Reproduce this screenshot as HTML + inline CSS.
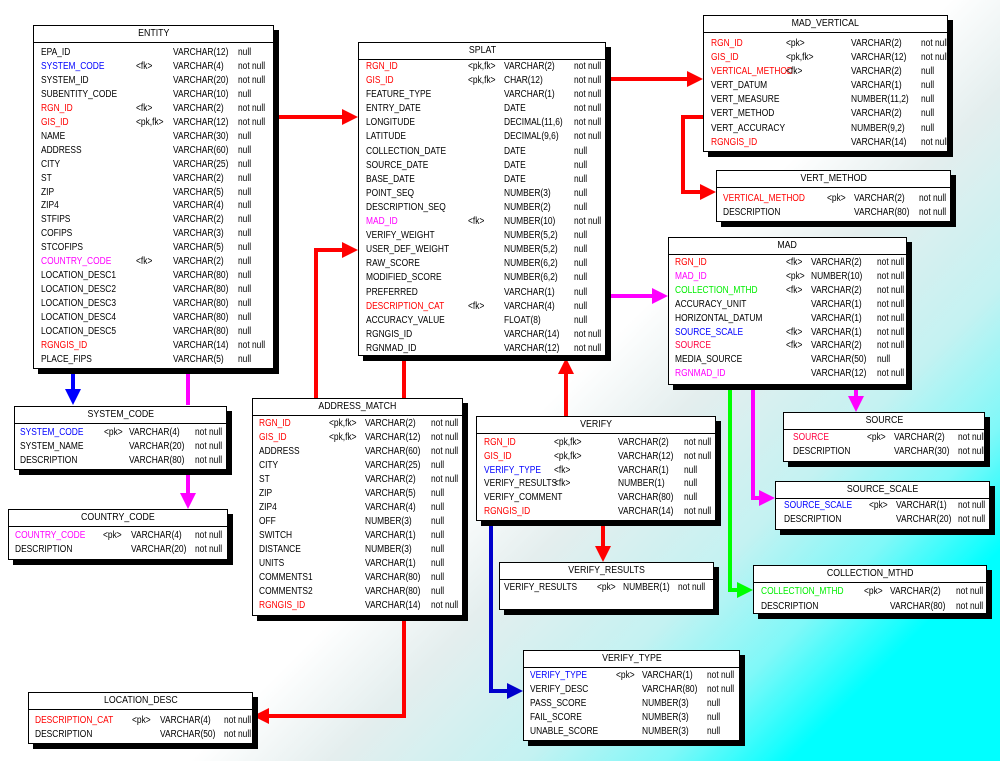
<!DOCTYPE html>
<html><head><meta charset="utf-8"><style>
*{margin:0;padding:0;box-sizing:border-box}
body{width:1000px;height:761px;position:relative;overflow:hidden;font-family:"Liberation Sans",sans-serif;font-size:10px;color:#000;
background:linear-gradient(135deg,#fff 0%,#fff 54%,#e4eeee 62%,#c4f2f2 73%,#7ff8f8 81%,#00ffff 88%,#00ffff 100%)}
svg{position:absolute;left:0;top:0}
.e{position:absolute;background:#fff;border:1px solid #000;box-shadow:5px 5px 0 #000}
.h{position:absolute;left:0;right:0;top:0;height:17px;border-bottom:1px solid #000;text-align:center;line-height:16px}
.h span{display:inline-block;transform:scaleX(.88)}
.b{position:absolute;left:0;right:0}
.b div{position:relative;white-space:nowrap}
.b span{position:absolute;top:0;transform:scaleX(.84);transform-origin:0 50%}
.n{left:var(--n)}.k{left:var(--k)}.t{left:var(--t)}.z{left:var(--z)}
.r{color:#f00}.bl{color:#00f}.m{color:#f0f}.g{color:#0e0}.rp{color:#ff0040}
</style></head><body>
<svg width="1000" height="761">
<g fill="none" stroke-width="4">
<path d="M275 117H345" stroke="#f00"/>
<path d="M607 79H690" stroke="#f00"/>
<path d="M703 117H683V192H703" stroke="#f00"/>
<path d="M607 296H655" stroke="#f0f"/>
<path d="M316 398V250H345" stroke="#f00"/>
<path d="M404 356V398" stroke="#f00"/>
<path d="M566 416V374" stroke="#f00"/>
<path d="M603 521V549" stroke="#f00"/>
<path d="M491 521V691H510" stroke="#00c"/>
<path d="M404 616V716H266" stroke="#f00"/>
<path d="M73 369V392" stroke="#00f"/>
<path d="M188 369V405M188 469V496" stroke="#f0f"/>
<path d="M856 385V398" stroke="#f0f"/>
<path d="M753 385V498H762" stroke="#f0f"/>
<path d="M730 385V590H740" stroke="#0f0"/>
</g>
<polygon points="358,117 342,109 342,125" fill="#f00"/>
<polygon points="703,79 687,71 687,87" fill="#f00"/>
<polygon points="716,192 700,184 700,200" fill="#f00"/>
<polygon points="668,296 652,288 652,304" fill="#f0f"/>
<polygon points="358,250 342,242 342,258" fill="#f00"/>
<polygon points="566,358 558,374 574,374" fill="#f00"/>
<polygon points="603,562 595,546 611,546" fill="#f00"/>
<polygon points="523,691 507,683 507,699" fill="#00c"/>
<polygon points="253,716 269,708 269,724" fill="#f00"/>
<polygon points="73,405 65,389 81,389" fill="#00f"/>
<polygon points="188,509 180,493 196,493" fill="#f0f"/>
<polygon points="856,412 848,396 864,396" fill="#f0f"/>
<polygon points="775,498 759,490 759,506" fill="#f0f"/>
<polygon points="753,590 737,582 737,598" fill="#0f0"/>
</svg>

<div class="e" style="left:33px;top:25px;width:241px;height:344px;--n:7px;--k:102px;--t:139px;--z:204px">
<div class="h"><span>ENTITY</span></div>
<div class="b" style="top:20px;line-height:13.95px">
<div><span class="n">EPA_ID</span><span class="t">VARCHAR(12)</span><span class="z">null</span>&nbsp;</div>
<div><span class="n bl">SYSTEM_CODE</span><span class="k">&lt;fk&gt;</span><span class="t">VARCHAR(4)</span><span class="z">not null</span>&nbsp;</div>
<div><span class="n">SYSTEM_ID</span><span class="t">VARCHAR(20)</span><span class="z">not null</span>&nbsp;</div>
<div><span class="n">SUBENTITY_CODE</span><span class="t">VARCHAR(10)</span><span class="z">null</span>&nbsp;</div>
<div><span class="n r">RGN_ID</span><span class="k">&lt;fk&gt;</span><span class="t">VARCHAR(2)</span><span class="z">not null</span>&nbsp;</div>
<div><span class="n r">GIS_ID</span><span class="k">&lt;pk,fk&gt;</span><span class="t">VARCHAR(12)</span><span class="z">not null</span>&nbsp;</div>
<div><span class="n">NAME</span><span class="t">VARCHAR(30)</span><span class="z">null</span>&nbsp;</div>
<div><span class="n">ADDRESS</span><span class="t">VARCHAR(60)</span><span class="z">null</span>&nbsp;</div>
<div><span class="n">CITY</span><span class="t">VARCHAR(25)</span><span class="z">null</span>&nbsp;</div>
<div><span class="n">ST</span><span class="t">VARCHAR(2)</span><span class="z">null</span>&nbsp;</div>
<div><span class="n">ZIP</span><span class="t">VARCHAR(5)</span><span class="z">null</span>&nbsp;</div>
<div><span class="n">ZIP4</span><span class="t">VARCHAR(4)</span><span class="z">null</span>&nbsp;</div>
<div><span class="n">STFIPS</span><span class="t">VARCHAR(2)</span><span class="z">null</span>&nbsp;</div>
<div><span class="n">COFIPS</span><span class="t">VARCHAR(3)</span><span class="z">null</span>&nbsp;</div>
<div><span class="n">STCOFIPS</span><span class="t">VARCHAR(5)</span><span class="z">null</span>&nbsp;</div>
<div><span class="n m">COUNTRY_CODE</span><span class="k">&lt;fk&gt;</span><span class="t">VARCHAR(2)</span><span class="z">null</span>&nbsp;</div>
<div><span class="n">LOCATION_DESC1</span><span class="t">VARCHAR(80)</span><span class="z">null</span>&nbsp;</div>
<div><span class="n">LOCATION_DESC2</span><span class="t">VARCHAR(80)</span><span class="z">null</span>&nbsp;</div>
<div><span class="n">LOCATION_DESC3</span><span class="t">VARCHAR(80)</span><span class="z">null</span>&nbsp;</div>
<div><span class="n">LOCATION_DESC4</span><span class="t">VARCHAR(80)</span><span class="z">null</span>&nbsp;</div>
<div><span class="n">LOCATION_DESC5</span><span class="t">VARCHAR(80)</span><span class="z">null</span>&nbsp;</div>
<div><span class="n r">RGNGIS_ID</span><span class="t">VARCHAR(14)</span><span class="z">not null</span>&nbsp;</div>
<div><span class="n">PLACE_FIPS</span><span class="t">VARCHAR(5)</span><span class="z">null</span>&nbsp;</div>
</div></div>

<div class="e" style="left:358px;top:42px;width:248px;height:314px;--n:7px;--k:109px;--t:145px;--z:215px">
<div class="h"><span>SPLAT</span></div>
<div class="b" style="top:17px;line-height:14.1px">
<div><span class="n r">RGN_ID</span><span class="k">&lt;pk,fk&gt;</span><span class="t">VARCHAR(2)</span><span class="z">not null</span>&nbsp;</div>
<div><span class="n r">GIS_ID</span><span class="k">&lt;pk,fk&gt;</span><span class="t">CHAR(12)</span><span class="z">not null</span>&nbsp;</div>
<div><span class="n">FEATURE_TYPE</span><span class="t">VARCHAR(1)</span><span class="z">not null</span>&nbsp;</div>
<div><span class="n">ENTRY_DATE</span><span class="t">DATE</span><span class="z">not null</span>&nbsp;</div>
<div><span class="n">LONGITUDE</span><span class="t">DECIMAL(11,6)</span><span class="z">not null</span>&nbsp;</div>
<div><span class="n">LATITUDE</span><span class="t">DECIMAL(9,6)</span><span class="z">not null</span>&nbsp;</div>
<div><span class="n">COLLECTION_DATE</span><span class="t">DATE</span><span class="z">null</span>&nbsp;</div>
<div><span class="n">SOURCE_DATE</span><span class="t">DATE</span><span class="z">null</span>&nbsp;</div>
<div><span class="n">BASE_DATE</span><span class="t">DATE</span><span class="z">null</span>&nbsp;</div>
<div><span class="n">POINT_SEQ</span><span class="t">NUMBER(3)</span><span class="z">null</span>&nbsp;</div>
<div><span class="n">DESCRIPTION_SEQ</span><span class="t">NUMBER(2)</span><span class="z">null</span>&nbsp;</div>
<div><span class="n m">MAD_ID</span><span class="k">&lt;fk&gt;</span><span class="t">NUMBER(10)</span><span class="z">not null</span>&nbsp;</div>
<div><span class="n">VERIFY_WEIGHT</span><span class="t">NUMBER(5,2)</span><span class="z">null</span>&nbsp;</div>
<div><span class="n">USER_DEF_WEIGHT</span><span class="t">NUMBER(5,2)</span><span class="z">null</span>&nbsp;</div>
<div><span class="n">RAW_SCORE</span><span class="t">NUMBER(6,2)</span><span class="z">null</span>&nbsp;</div>
<div><span class="n">MODIFIED_SCORE</span><span class="t">NUMBER(6,2)</span><span class="z">null</span>&nbsp;</div>
<div><span class="n">PREFERRED</span><span class="t">VARCHAR(1)</span><span class="z">null</span>&nbsp;</div>
<div><span class="n r">DESCRIPTION_CAT</span><span class="k">&lt;fk&gt;</span><span class="t">VARCHAR(4)</span><span class="z">null</span>&nbsp;</div>
<div><span class="n">ACCURACY_VALUE</span><span class="t">FLOAT(8)</span><span class="z">null</span>&nbsp;</div>
<div><span class="n">RGNGIS_ID</span><span class="t">VARCHAR(14)</span><span class="z">not null</span>&nbsp;</div>
<div><span class="n">RGNMAD_ID</span><span class="t">VARCHAR(12)</span><span class="z">not null</span>&nbsp;</div>
</div></div>

<div class="e" style="left:703px;top:15px;width:245px;height:137px;--n:7px;--k:82px;--t:147px;--z:217px">
<div class="h"><span>MAD_VERTICAL</span></div>
<div class="b" style="top:21px;line-height:14.1px">
<div><span class="n r">RGN_ID</span><span class="k">&lt;pk&gt;</span><span class="t">VARCHAR(2)</span><span class="z">not null</span>&nbsp;</div>
<div><span class="n r">GIS_ID</span><span class="k">&lt;pk,fk&gt;</span><span class="t">VARCHAR(12)</span><span class="z">not null</span>&nbsp;</div>
<div><span class="n r">VERTICAL_METHOD</span><span class="k">&lt;fk&gt;</span><span class="t">VARCHAR(2)</span><span class="z">null</span>&nbsp;</div>
<div><span class="n">VERT_DATUM</span><span class="t">VARCHAR(1)</span><span class="z">null</span>&nbsp;</div>
<div><span class="n">VERT_MEASURE</span><span class="t">NUMBER(11,2)</span><span class="z">null</span>&nbsp;</div>
<div><span class="n">VERT_METHOD</span><span class="t">VARCHAR(2)</span><span class="z">null</span>&nbsp;</div>
<div><span class="n">VERT_ACCURACY</span><span class="t">NUMBER(9,2)</span><span class="z">null</span>&nbsp;</div>
<div><span class="n r">RGNGIS_ID</span><span class="t">VARCHAR(14)</span><span class="z">not null</span>&nbsp;</div>
</div></div>

<div class="e" style="left:716px;top:170px;width:235px;height:52px;--n:6px;--k:110px;--t:137px;--z:202px">
<div class="h"><span>VERT_METHOD</span></div>
<div class="b" style="top:21px;line-height:14px">
<div><span class="n r">VERTICAL_METHOD</span><span class="k">&lt;pk&gt;</span><span class="t">VARCHAR(2)</span><span class="z">not null</span>&nbsp;</div>
<div><span class="n">DESCRIPTION</span><span class="t">VARCHAR(80)</span><span class="z">not null</span>&nbsp;</div>
</div></div>

<div class="e" style="left:668px;top:237px;width:239px;height:148px;--n:6px;--k:117px;--t:142px;--z:208px">
<div class="h"><span>MAD</span></div>
<div class="b" style="top:18px;line-height:13.9px">
<div><span class="n r">RGN_ID</span><span class="k">&lt;fk&gt;</span><span class="t">VARCHAR(2)</span><span class="z">not null</span>&nbsp;</div>
<div><span class="n m">MAD_ID</span><span class="k">&lt;pk&gt;</span><span class="t">NUMBER(10)</span><span class="z">not null</span>&nbsp;</div>
<div><span class="n g">COLLECTION_MTHD</span><span class="k">&lt;fk&gt;</span><span class="t">VARCHAR(2)</span><span class="z">not null</span>&nbsp;</div>
<div><span class="n">ACCURACY_UNIT</span><span class="t">VARCHAR(1)</span><span class="z">not null</span>&nbsp;</div>
<div><span class="n">HORIZONTAL_DATUM</span><span class="t">VARCHAR(1)</span><span class="z">not null</span>&nbsp;</div>
<div><span class="n bl">SOURCE_SCALE</span><span class="k">&lt;fk&gt;</span><span class="t">VARCHAR(1)</span><span class="z">not null</span>&nbsp;</div>
<div><span class="n rp">SOURCE</span><span class="k">&lt;fk&gt;</span><span class="t">VARCHAR(2)</span><span class="z">not null</span>&nbsp;</div>
<div><span class="n">MEDIA_SOURCE</span><span class="t">VARCHAR(50)</span><span class="z">null</span>&nbsp;</div>
<div><span class="n m">RGNMAD_ID</span><span class="t">VARCHAR(12)</span><span class="z">not null</span>&nbsp;</div>
</div></div>

<div class="e" style="left:783px;top:412px;width:202px;height:50px;--n:9px;--k:83px;--t:110px;--z:174px">
<div class="h"><span>SOURCE</span></div>
<div class="b" style="top:18px;line-height:14px">
<div><span class="n rp">SOURCE</span><span class="k">&lt;pk&gt;</span><span class="t">VARCHAR(2)</span><span class="z">not null</span>&nbsp;</div>
<div><span class="n">DESCRIPTION</span><span class="t">VARCHAR(30)</span><span class="z">not null</span>&nbsp;</div>
</div></div>

<div class="e" style="left:775px;top:481px;width:215px;height:49px;--n:8px;--k:93px;--t:120px;--z:182px">
<div class="h"><span>SOURCE_SCALE</span></div>
<div class="b" style="top:17px;line-height:14px">
<div><span class="n bl">SOURCE_SCALE</span><span class="k">&lt;pk&gt;</span><span class="t">VARCHAR(1)</span><span class="z">not null</span>&nbsp;</div>
<div><span class="n">DESCRIPTION</span><span class="t">VARCHAR(20)</span><span class="z">not null</span>&nbsp;</div>
</div></div>

<div class="e" style="left:753px;top:565px;width:234px;height:49px;--n:7px;--k:110px;--t:136px;--z:202px">
<div class="h"><span>COLLECTION_MTHD</span></div>
<div class="b" style="top:18px;line-height:15px">
<div><span class="n g">COLLECTION_MTHD</span><span class="k">&lt;pk&gt;</span><span class="t">VARCHAR(2)</span><span class="z">not null</span>&nbsp;</div>
<div><span class="n">DESCRIPTION</span><span class="t">VARCHAR(80)</span><span class="z">not null</span>&nbsp;</div>
</div></div>

<div class="e" style="left:476px;top:416px;width:240px;height:105px;--n:7px;--k:77px;--t:141px;--z:207px">
<div class="h"><span>VERIFY</span></div>
<div class="b" style="top:19px;line-height:13.8px">
<div><span class="n r">RGN_ID</span><span class="k">&lt;pk,fk&gt;</span><span class="t">VARCHAR(2)</span><span class="z">not null</span>&nbsp;</div>
<div><span class="n r">GIS_ID</span><span class="k">&lt;pk,fk&gt;</span><span class="t">VARCHAR(12)</span><span class="z">not null</span>&nbsp;</div>
<div><span class="n bl">VERIFY_TYPE</span><span class="k">&lt;fk&gt;</span><span class="t">VARCHAR(1)</span><span class="z">null</span>&nbsp;</div>
<div><span class="n">VERIFY_RESULTS</span><span class="k">&lt;fk&gt;</span><span class="t">NUMBER(1)</span><span class="z">null</span>&nbsp;</div>
<div><span class="n">VERIFY_COMMENT</span><span class="t">VARCHAR(80)</span><span class="z">null</span>&nbsp;</div>
<div><span class="n r">RGNGIS_ID</span><span class="t">VARCHAR(14)</span><span class="z">not null</span>&nbsp;</div>
</div></div>

<div class="e" style="left:499px;top:562px;width:215px;height:48px;--n:4px;--k:97px;--t:123px;--z:178px">
<div class="h"><span>VERIFY_RESULTS</span></div>
<div class="b" style="top:18px;line-height:14px">
<div><span class="n">VERIFY_RESULTS</span><span class="k">&lt;pk&gt;</span><span class="t">NUMBER(1)</span><span class="z">not null</span>&nbsp;</div>
</div></div>

<div class="e" style="left:523px;top:650px;width:217px;height:91px;--n:6px;--k:92px;--t:118px;--z:183px">
<div class="h"><span>VERIFY_TYPE</span></div>
<div class="b" style="top:18px;line-height:14px">
<div><span class="n bl">VERIFY_TYPE</span><span class="k">&lt;pk&gt;</span><span class="t">VARCHAR(1)</span><span class="z">not null</span>&nbsp;</div>
<div><span class="n">VERIFY_DESC</span><span class="t">VARCHAR(80)</span><span class="z">not null</span>&nbsp;</div>
<div><span class="n">PASS_SCORE</span><span class="t">NUMBER(3)</span><span class="z">null</span>&nbsp;</div>
<div><span class="n">FAIL_SCORE</span><span class="t">NUMBER(3)</span><span class="z">null</span>&nbsp;</div>
<div><span class="n">UNABLE_SCORE</span><span class="t">NUMBER(3)</span><span class="z">null</span>&nbsp;</div>
</div></div>

<div class="e" style="left:252px;top:398px;width:211px;height:218px;--n:6px;--k:76px;--t:112px;--z:178px">
<div class="h"><span>ADDRESS_MATCH</span></div>
<div class="b" style="top:18px;line-height:14px">
<div><span class="n r">RGN_ID</span><span class="k">&lt;pk,fk&gt;</span><span class="t">VARCHAR(2)</span><span class="z">not null</span>&nbsp;</div>
<div><span class="n r">GIS_ID</span><span class="k">&lt;pk,fk&gt;</span><span class="t">VARCHAR(12)</span><span class="z">not null</span>&nbsp;</div>
<div><span class="n">ADDRESS</span><span class="t">VARCHAR(60)</span><span class="z">not null</span>&nbsp;</div>
<div><span class="n">CITY</span><span class="t">VARCHAR(25)</span><span class="z">null</span>&nbsp;</div>
<div><span class="n">ST</span><span class="t">VARCHAR(2)</span><span class="z">not null</span>&nbsp;</div>
<div><span class="n">ZIP</span><span class="t">VARCHAR(5)</span><span class="z">null</span>&nbsp;</div>
<div><span class="n">ZIP4</span><span class="t">VARCHAR(4)</span><span class="z">null</span>&nbsp;</div>
<div><span class="n">OFF</span><span class="t">NUMBER(3)</span><span class="z">null</span>&nbsp;</div>
<div><span class="n">SWITCH</span><span class="t">VARCHAR(1)</span><span class="z">null</span>&nbsp;</div>
<div><span class="n">DISTANCE</span><span class="t">NUMBER(3)</span><span class="z">null</span>&nbsp;</div>
<div><span class="n">UNITS</span><span class="t">VARCHAR(1)</span><span class="z">null</span>&nbsp;</div>
<div><span class="n">COMMENTS1</span><span class="t">VARCHAR(80)</span><span class="z">null</span>&nbsp;</div>
<div><span class="n">COMMENTS2</span><span class="t">VARCHAR(80)</span><span class="z">null</span>&nbsp;</div>
<div><span class="n r">RGNGIS_ID</span><span class="t">VARCHAR(14)</span><span class="z">not null</span>&nbsp;</div>
</div></div>

<div class="e" style="left:14px;top:406px;width:213px;height:64px;--n:5px;--k:89px;--t:114px;--z:180px">
<div class="h"><span>SYSTEM_CODE</span></div>
<div class="b" style="top:19px;line-height:14px">
<div><span class="n bl">SYSTEM_CODE</span><span class="k">&lt;pk&gt;</span><span class="t">VARCHAR(4)</span><span class="z">not null</span>&nbsp;</div>
<div><span class="n">SYSTEM_NAME</span><span class="t">VARCHAR(20)</span><span class="z">not null</span>&nbsp;</div>
<div><span class="n">DESCRIPTION</span><span class="t">VARCHAR(80)</span><span class="z">not null</span>&nbsp;</div>
</div></div>

<div class="e" style="left:8px;top:509px;width:220px;height:51px;--n:6px;--k:94px;--t:122px;--z:186px">
<div class="h"><span>COUNTRY_CODE</span></div>
<div class="b" style="top:19px;line-height:14px">
<div><span class="n m">COUNTRY_CODE</span><span class="k">&lt;pk&gt;</span><span class="t">VARCHAR(4)</span><span class="z">not null</span>&nbsp;</div>
<div><span class="n">DESCRIPTION</span><span class="t">VARCHAR(20)</span><span class="z">not null</span>&nbsp;</div>
</div></div>

<div class="e" style="left:28px;top:692px;width:225px;height:52px;--n:6px;--k:103px;--t:131px;--z:195px">
<div class="h"><span>LOCATION_DESC</span></div>
<div class="b" style="top:21px;line-height:14px">
<div><span class="n r">DESCRIPTION_CAT</span><span class="k">&lt;pk&gt;</span><span class="t">VARCHAR(4)</span><span class="z">not null</span>&nbsp;</div>
<div><span class="n">DESCRIPTION</span><span class="t">VARCHAR(50)</span><span class="z">not null</span>&nbsp;</div>
</div></div>
</body></html>
